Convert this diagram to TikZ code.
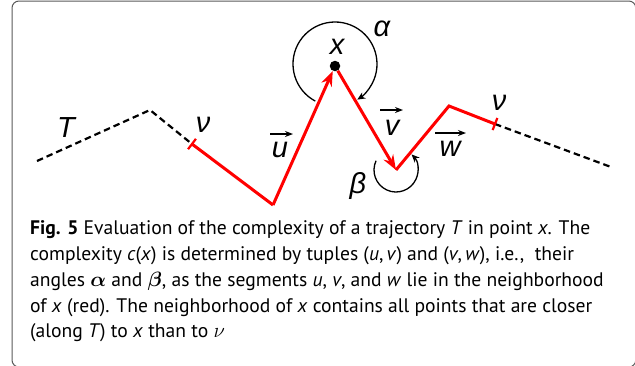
\documentclass[tikz,border=0pt]{standalone}
\usepackage{fontspec}
\usepackage{amsmath,bm}
\setmainfont{PT Sans}
\newfontfamily\lblfont{Liberation Sans}
\usetikzlibrary{arrows.meta,calc}
\tikzset{
  frame/.style={draw=black!65, line width=1pt, rounded corners=7pt},
  redline/.style={draw=red, line width=3pt, line join=miter},
  redarrow/.style={redline, -{Stealth[length=15pt,width=11pt]}},
  dashline/.style={draw=black, line width=2.2pt, dash pattern=on 6.5pt off 4pt},
  tick/.style={draw=red, line width=2.2pt},
  anglearc/.style={draw=black, line width=1.3pt, -{Stealth[length=8pt,width=7pt]}},
  vecarrow/.style={draw=black, line width=1.5pt, -{Stealth[length=8pt,width=6pt]}},
  lbl/.style={font=\lblfont\itshape\fontsize{29}{31}\selectfont, inner sep=0pt},
  dot/.style={circle, fill=black, inner sep=0pt, minimum size=10.5pt},
  capline/.style={anchor=base west, inner sep=0pt, font=\fontsize{19.6}{26}\selectfont},
}
\begin{document}
\begin{tikzpicture}[x=1pt,y=-1pt]
\useasboundingbox (0,0) rectangle (635,365);
\draw[frame] (12,1) rectangle (635.8,367);

\coordinate (s1) at (37,161);
\coordinate (p1) at (150,110);
\coordinate (t1) at (192,144);
\coordinate (b1) at (273,205);
\node[dot] (x) at (335,66) {};
\coordinate (ca) at (335,64);
\coordinate (b2) at (396,170);
\coordinate (p2) at (449,106);
\coordinate (t2) at (495,124);
\coordinate (e1) at (611,167);

% dashed parts
\draw[dashline] (s1) -- (p1) -- (t1);
\draw[dashline] (t2) -- (e1);

% red neighborhood
\draw[redline] (t1) -- (b1);
\draw[redarrow] (b1) -- (x);
\draw[redarrow] (x) -- (b2);
\draw[redline] (b2) -- (p2) -- (t2);

% ticks
\draw[tick] ($(t1)!6.5pt!90:(b1)$) -- ($(t1)!6.5pt!-90:(b1)$);
\draw[tick] ($(t2)!6.5pt!90:(p2)$) -- ($(t2)!6.5pt!-90:(p2)$);

% angle arcs
\draw[anglearc] ($(ca)+(118:42)$) arc[start angle=118, end angle=418, radius=42];
\draw[anglearc] ($(b2)+(205:22)$) arc[start angle=205, end angle=-45, radius=22];

% labels
\node[lbl] (lx) at (337,47) {x};
\node[lbl] (la) at (382,29) {α};
\node[lbl] (lb) at (358,186) {β};
\node[lbl] (lT) at (66,128) {T};
\node[lbl] (ln1) at (203,125) {ν};
\node[lbl] (ln2) at (499,103) {ν};
\node[lbl] (lu) at (280,150) {u};
\node[lbl] (lv) at (392,128) {v};
\node[lbl] (lw) at (450,149) {w};
\draw[vecarrow] ($(lu)+(-10,-16)$) -- ($(lu)+(13,-16)$);
\draw[vecarrow] ($(lv)+(-12,-18)$) -- ($(lv)+(11,-18)$);
\draw[vecarrow] ($(lw)+(-15,-16)$) -- ($(lw)+(16,-16)$);

% caption
\node[capline] (c1) at (30,234) {\textbf{Fig. 5} Evaluation of the complexity of a trajectory \textit{T} in point \textit{x}. The};
\node[capline] (c2) at (30,260) {complexity \textit{c}(\textit{x}) is determined by tuples (\textit{u},\,\textit{v}) and (\textit{v},\,\textit{w}), i.e.,\ \ their};
\node[capline] (c3) at (30,286) {angles $\bm{\alpha}$ and $\bm{\beta}$, as the segments \textit{u}, \textit{v}, and \textit{w} lie in the neighborhood};
\node[capline] (c4) at (30,312) {of \textit{x} (red). The neighborhood of \textit{x} contains all points that are closer};
\node[capline] (c5) at (30,337) {(along \textit{T}) to \textit{x} than to $\nu$};
\end{tikzpicture}
\end{document}
